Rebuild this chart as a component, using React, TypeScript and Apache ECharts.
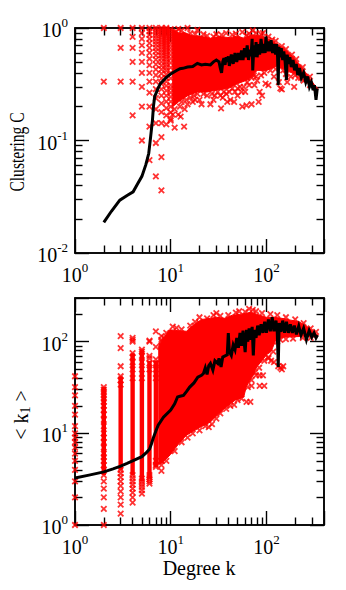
import React, { useEffect, useRef } from "react";
import * as echarts from "echarts";

// ---------- top panel: clustering ----------
const topCol2 = [1, 0.333];
const topCol3 = [1, 0.667, 0.333];
const topCol4 = [1, 0.833, 0.667, 0.5, 0.333, 0.167];
const topCol5 = [1, 0.9, 0.8, 0.7, 0.6, 0.5, 0.4, 0.3, 0.2, 0.1];
const topCol6 = [1, 0.933, 0.867, 0.8, 0.733, 0.667, 0.6, 0.533, 0.467, 0.4, 0.333, 0.267, 0.2, 0.133, 0.067];
const topCol7 = [1, 0.952, 0.905, 0.857, 0.81, 0.762, 0.714, 0.667, 0.619, 0.571, 0.524, 0.476, 0.429, 0.381, 0.333, 0.286, 0.238, 0.19, 0.143, 0.095, 0.048];
const topCol8 = [1, 0.964, 0.929, 0.893, 0.857, 0.821, 0.786, 0.75, 0.714, 0.679, 0.643, 0.607, 0.571, 0.536, 0.5, 0.464, 0.429, 0.393, 0.357, 0.321, 0.286, 0.25, 0.214, 0.179, 0.143, 0.107, 0.071, 0.036];
const topCol9 = [1, 0.972, 0.944, 0.917, 0.889, 0.861, 0.833, 0.806, 0.778, 0.75, 0.722, 0.694, 0.667, 0.639, 0.611, 0.583, 0.556, 0.528, 0.5, 0.472, 0.444, 0.417, 0.389, 0.361, 0.333, 0.306, 0.278, 0.25, 0.222, 0.194, 0.167, 0.139];
const topCol10 = [0.978, 0.933, 0.889, 0.844, 0.8, 0.756, 0.711, 0.667, 0.622, 0.578, 0.533, 0.489, 0.444, 0.4, 0.356, 0.311, 0.289, 0.267, 0.244, 0.222, 0.2, 0.178, 0.156];
const topCloudUpper = [[10.5, 0.97], [12, 0.9], [14, 0.91], [17, 0.85], [20, 0.85], [26, 0.81], [32, 0.84], [42, 0.82], [50, 0.85], [58, 0.81], [70, 0.87], [85, 0.85], [100, 0.82], [130, 0.72], [170, 0.61], [220, 0.48], [270, 0.38], [320, 0.31], [345, 0.29]];
const topCloudLower = [[345, 0.28], [310, 0.28], [270, 0.34], [220, 0.38], [170, 0.41], [130, 0.46], [100, 0.42], [80, 0.42], [66, 0.35], [50, 0.32], [40, 0.29], [30, 0.28], [24, 0.27], [19, 0.27], [15, 0.25], [12, 0.22], [10.5, 0.2]];
const topExtra = [[11, 0.13], [13.8, 0.133], [12.7, 0.163], [33.6, 0.193], [10, 0.15], [10.5, 0.17], [12, 0.17], [39, 0.22], [46, 0.22], [42, 0.23], [56, 0.2], [62, 0.205], [70, 0.21], [83, 0.22], [90, 0.25], [85, 0.27], [105, 0.31], [98, 0.32], [140, 0.29], [145, 0.285], [195, 0.3], [260, 0.35], [135, 0.33], [165, 0.33], [21, 0.21], [26, 0.21], [17, 0.22], [15, 0.21], [14, 0.19], [12, 0.98], [15, 1], [19, 0.96], [75, 0.31], [80, 0.34], [50, 0.25], [55, 0.27], [35, 0.24], [28, 0.23], [18, 0.23], [120, 0.37], [180, 0.37], [230, 0.36], [38, 0.9], [56, 0.92], [72, 0.95], [92, 0.9],
  [11, 0.19], [12.5, 0.2], [13, 0.22], [14.5, 0.23], [16, 0.24], [17.5, 0.25], [19, 0.26], [20, 0.23], [22, 0.26], [24, 0.25], [27, 0.26], [29, 0.25], [31, 0.27], [33, 0.25], [36, 0.27], [38, 0.26], [41, 0.27], [44, 0.29], [47, 0.27], [50, 0.29], [53, 0.3], [58, 0.3], [60, 0.27], [63, 0.33], [66, 0.31], [70, 0.36], [74, 0.38], [78, 0.37], [88, 0.38], [95, 0.4], [110, 0.42], [125, 0.43], [150, 0.42], [160, 0.39], [200, 0.38], [215, 0.36], [245, 0.34], [285, 0.31],
  [11.5, 0.93], [13, 0.95], [16, 0.9], [18, 0.88], [22, 0.88], [24, 0.85], [28, 0.84], [30, 0.88], [34, 0.87], [44, 0.87], [48, 0.89], [62, 0.86], [66, 0.89], [78, 0.9], [88, 0.88], [105, 0.84], [115, 0.79], [125, 0.77], [145, 0.69], [160, 0.65], [185, 0.58], [205, 0.53], [240, 0.45], [285, 0.37]];
const topLine = [[2, 0.0187], [2.4, 0.0235], [2.94, 0.0295], [3.5, 0.0325], [4.05, 0.035], [4.5, 0.041], [5, 0.048], [5.5, 0.061], [5.9, 0.077], [6.15, 0.105], [6.45, 0.152], [6.6, 0.2], [6.8, 0.245], [7.3, 0.285], [7.8, 0.32], [9, 0.364], [10, 0.39], [11.4, 0.417], [12.5, 0.435], [13.4, 0.438], [15, 0.45], [17, 0.455], [19, 0.485], [21, 0.47], [23, 0.475], [26, 0.47], [28, 0.5], [30, 0.52], [32, 0.5], [33, 0.44], [34, 0.4], [35, 0.5], [36, 0.54], [37, 0.47], [38, 0.55], [39, 0.5], [40, 0.56], [41, 0.46], [43, 0.58], [45, 0.48], [47, 0.6], [49, 0.5], [51, 0.6], [53, 0.52], [55, 0.63], [57, 0.52], [59, 0.66], [61, 0.55], [63, 0.7], [65, 0.52], [67, 0.64], [69, 0.56], [71, 0.8], [72, 0.42], [74, 0.7], [76, 0.55], [78, 0.75], [80, 0.55], [83, 0.72], [85, 0.58], [88, 0.8], [91, 0.6], [94, 0.72], [97, 0.6], [99, 0.84], [102, 0.62], [105, 0.76], [108, 0.62], [112, 0.78], [116, 0.6], [120, 0.72], [125, 0.58], [128, 0.72], [131, 0.55], [133, 0.31], [135, 0.68], [139, 0.55], [143, 0.66], [148, 0.52], [152, 0.62], [157, 0.5], [162, 0.345], [165, 0.58], [170, 0.48], [176, 0.55], [182, 0.45], [190, 0.52], [197, 0.42], [205, 0.48], [213, 0.38], [222, 0.44], [232, 0.36], [245, 0.4], [258, 0.33], [270, 0.37], [282, 0.3], [295, 0.33], [308, 0.28], [318, 0.31], [330, 0.23], [340, 0.29]];

// ---------- bottom panel: <k1> ----------
const botCol1 = [1, 2, 3, 4, 5, 6, 7, 8, 9, 10, 12, 16, 20, 26, 32, 42];
const botCol2 = [1, 1.5, 2, 2.5, 3, 3.5, 4, 4.5, 5, 5.5, 6, 7, 8, 9, 10, 12, 14, 16, 18, 20, 22, 24, 26, 28, 30, 32];
const botCol3 = [1.33, 1.67, 2, 2.33, 2.67, 3, 3.33, 3.67, 4, 34, 38, 42, 54, 85, 115];
const botCol4 = [1.75, 2, 2.25, 2.5, 2.75, 3, 3.25, 3.5, 40, 50, 60, 68, 75, 100, 105, 110];
const botCol5 = [2.2, 2.4, 2.6, 2.8, 3, 3.2, 40, 50, 60, 70, 78, 82];
const botCol6 = [2.83, 3, 3.17, 3.33, 3.5, 50, 58, 66, 70, 100, 103];
const botCol7 = [4.3, 4.5, 5, 40, 50, 58, 64, 88, 130];
const botCol8 = [3.9, 4.5, 5, 90, 100, 105, 115];
const botBands = [[2, 3.5, 32], [3, 4, 42], [4, 3.5, 75], [5, 3, 82], [6, 3.2, 62], [7, 4.3, 62]];
const botCloudUpper = [[7.5, 90], [8, 100], [9.7, 135], [12, 132], [14.6, 130], [17, 150], [21, 175], [26, 180], [30, 185], [37, 180], [44, 195], [55, 200], [69, 210], [85, 195], [100, 185], [120, 185], [145, 180], [180, 172], [220, 165], [270, 145], [320, 125], [345, 118]];
const botCloudLower = [[345, 114], [320, 112], [260, 116], [220, 114], [150, 112], [125, 104], [112, 78], [100, 72], [90, 62], [80, 54], [72, 42], [62, 33], [58, 25], [47, 23], [35, 18], [26, 13.3], [19, 11.2], [14.5, 9.5], [12, 7.6], [10, 5.9], [8, 4.7], [7.5, 4.6]];
const botExtra = [[25, 11.7], [85, 43], [92, 43], [78, 43], [62, 22], [68, 22], [70, 33], [85, 33], [95, 33], [140, 52], [150, 54], [145, 50], [133, 54], [112, 62], [120, 60], [105, 66], [66, 50], [78, 60], [60, 36], [20, 160], [30, 205], [52, 215], [66, 228], [78, 215], [108, 115],
  [9, 5], [11, 6.4], [13, 8], [15, 9], [17, 10], [20, 10.8], [23, 12], [27, 12.6], [30, 14.5], [33, 16.5], [38, 18.5], [42, 20], [46, 20.5], [50, 23], [55, 24], [64, 32], [70, 38], [76, 46], [84, 52], [95, 62], [105, 68], [118, 78], [130, 100], [140, 105], [160, 107], [190, 108], [240, 110], [290, 110],
  [8.5, 110], [9, 125], [10.5, 146], [11.5, 142], [13, 136], [16, 150], [18, 165], [20, 185], [24, 180], [28, 195], [33, 192], [40, 195], [48, 208], [60, 212], [72, 222], [90, 205], [110, 200], [130, 195], [160, 185], [200, 175], [245, 160], [290, 140], [330, 128]];
const botLine = [[1, 3.25], [1.4, 3.5], [2, 3.8], [2.5, 4.1], [3, 4.4], [3.5, 4.7], [4, 5], [4.5, 5.3], [5, 5.56], [5.6, 6.2], [6, 6.7], [6.3, 7.7], [6.55, 8.8], [7, 10.6], [7.4, 12.3], [8.4, 15], [10, 18], [11, 21], [11.8, 25], [12.5, 25.4], [13.6, 25.9], [14.6, 28.5], [15.8, 32], [17.5, 35.5], [19.2, 41], [21, 43], [22, 45], [23, 52], [24, 44], [25, 55], [26, 58], [27.6, 49], [29, 62], [31, 58], [32, 66], [33.6, 53], [35, 68], [37, 70], [39, 72], [40, 124], [41, 78], [43, 71], [45, 92], [47, 82], [49, 110], [51, 86], [53, 125], [55, 90], [57, 132], [59, 92], [60, 77], [62, 135], [64, 100], [66, 140], [69, 105], [71, 145], [73, 71], [75, 135], [78, 110], [81, 150], [84, 118], [88, 155], [92, 125], [96, 165], [100, 125], [105, 175], [110, 130], [115, 185], [120, 130], [126, 170], [130, 125], [133, 53], [136, 160], [142, 128], [148, 170], [155, 125], [162, 165], [170, 125], [178, 155], [187, 125], [196, 150], [206, 120], [218, 148], [230, 118], [245, 140], [262, 105], [280, 132], [298, 112], [315, 125], [330, 110], [342, 118]];

const crossSymbol = "path://M1 1L9 9M9 1L1 9";
const RED = "#ff0000";
const X_MIN = 1;
const X_MAX = 400;

const colPts = (k: number, vals: number[]) => vals.map((v) => [k, v]);

const cloudSeries = (idx: number, poly: number[][]) => ({
  type: "custom",
  xAxisIndex: idx,
  yAxisIndex: idx,
  z: 2,
  silent: true,
  clip: false,
  data: [[poly[0][0], poly[0][1]]],
  renderItem: (_p: any, api: any) => ({
    type: "polygon",
    shape: { points: poly.map((p) => api.coord(p)) },
    style: { fill: RED, stroke: RED, lineWidth: 1 },
  }),
});

const bandSeries = (idx: number, bands: number[][]) => ({
  type: "custom",
  xAxisIndex: idx,
  yAxisIndex: idx,
  z: 2,
  silent: true,
  clip: false,
  data: bands,
  renderItem: (_p: any, api: any) => {
    const top = api.coord([api.value(0), api.value(2)]);
    const bot = api.coord([api.value(0), api.value(1)]);
    return {
      type: "rect",
      shape: { x: top[0] - 2.2, y: top[1], width: 4.4, height: bot[1] - top[1] },
      style: { fill: RED },
    };
  },
});

const scatter = (idx: number, data: number[][]) => ({
  type: "scatter",
  xAxisIndex: idx,
  yAxisIndex: idx,
  z: 3,
  silent: true,
  clip: false,
  symbol: crossSymbol,
  symbolSize: 5.5,
  itemStyle: { color: "none", borderColor: RED, borderWidth: 1.8 },
  data,
});

const line = (idx: number, data: number[][]) => ({
  type: "line",
  xAxisIndex: idx,
  yAxisIndex: idx,
  z: 5,
  silent: true,
  showSymbol: false,
  symbol: "none",
  lineStyle: { color: "#000", width: 3, join: "miter" },
  data,
});

const FONT = "'Liberation Serif', serif";
const powerLabel = (v: number) => {
  const e = Math.log10(v);
  if (Math.abs(e - Math.round(e)) > 1e-6) return "";
  return `{b|10}{s|${Math.round(e)}}`;
};
const labelBase = {
  show: true,
  fontFamily: FONT,
  color: "#000",
  formatter: powerLabel,
  rich: {
    b: { fontFamily: FONT, fontSize: 20, color: "#000", lineHeight: 24, verticalAlign: "bottom" },
    s: { fontFamily: FONT, fontSize: 13, color: "#000", lineHeight: 24, verticalAlign: "top", padding: [0, 0, 6, 0] },
  },
};
const axisLine = { show: true, onZero: false, lineStyle: { color: "#000", width: 1.5 } };
const tickStyle = { color: "#000", width: 1.4 };

const App = () => {
  const ref = useRef<HTMLDivElement>(null);
  useEffect(() => {
    document.body.style.margin = "0";
    const chart = echarts.init(ref.current!, undefined, { renderer: "svg" });
    const axis = (gridIndex: number, min: number, max: number, margin: number, position: string, labelled: boolean) => ({
      type: "log",
      logBase: 10,
      gridIndex,
      min,
      max,
      position,
      axisLine,
      axisTick: { show: true, inside: true, length: 14, lineStyle: tickStyle },
      minorTick: { show: true, splitNumber: 9, length: 7.5, lineStyle: tickStyle },
      splitLine: { show: false },
      minorSplitLine: { show: false },
      axisLabel: labelled ? { ...labelBase, margin, hideOverlap: false } : { show: false },
    });
    const topScatter = [
      ...colPts(2, topCol2), ...colPts(3, topCol3), ...colPts(4, topCol4), ...colPts(5, topCol5),
      ...colPts(6, topCol6), ...colPts(7, topCol7), ...colPts(8, topCol8), ...colPts(9, topCol9),
      ...colPts(10, topCol10), ...topExtra,
    ];
    const botScatter = [
      ...colPts(1, botCol1), ...colPts(2, botCol2), ...colPts(3, botCol3), ...colPts(4, botCol4),
      ...colPts(5, botCol5), ...colPts(6, botCol6), ...colPts(7, botCol7), ...colPts(8, botCol8),
      ...botExtra,
    ];
    chart.setOption({
      animation: false,
      backgroundColor: "#fff",
      grid: [
        { left: 75, top: 28, width: 249, height: 225, show: true, borderColor: "#000", borderWidth: 1.5, backgroundColor: "transparent" },
        { left: 75, top: 298, width: 249, height: 227, show: true, borderColor: "#000", borderWidth: 1.5, backgroundColor: "transparent" },
      ],
      xAxis: [
        axis(0, X_MIN, X_MAX, 8, "bottom", true),
        axis(1, X_MIN, X_MAX, 8, "bottom", true),
        axis(0, X_MIN, X_MAX, 8, "top", false),
        axis(1, X_MIN, X_MAX, 8, "top", false),
      ],
      yAxis: [
        axis(0, 0.01, 1, 7, "left", true),
        axis(1, 1, 300, 7, "left", true),
        axis(0, 0.01, 1, 7, "right", false),
        axis(1, 1, 300, 7, "right", false),
      ],
      graphic: [
        {
          type: "text",
          x: 17,
          y: 152,
          rotation: Math.PI / 2,
          scaleX: 0.78,
          style: { text: "Clustering C", font: `20px ${FONT}`, fill: "#000", align: "center", verticalAlign: "middle" },
        },
        {
          type: "text",
          x: 199,
          y: 568,
          style: { text: "Degree k", font: `20px ${FONT}`, fill: "#000", align: "center", verticalAlign: "middle" },
        },
        {
          type: "text",
          x: 21,
          y: 415,
          rotation: Math.PI / 2,
          style: {
            text: "< k{sub|1} >",
            font: `20px ${FONT}`,
            fill: "#000",
            align: "center",
            verticalAlign: "middle",
            rich: { sub: { font: `14px ${FONT}`, fill: "#000", padding: [8, 0, 0, 0] } },
          },
        },
      ],
      series: [
        cloudSeries(0, [...topCloudUpper, ...topCloudLower]),
        scatter(0, topScatter),
        line(0, topLine),
        cloudSeries(1, [...botCloudUpper, ...botCloudLower]),
        bandSeries(1, botBands),
        scatter(1, botScatter),
        line(1, botLine),
        { type: "line", xAxisIndex: 2, yAxisIndex: 2, data: [] },
        { type: "line", xAxisIndex: 3, yAxisIndex: 3, data: [] },
      ],
    });
    return () => chart.dispose();
  }, []);
  return <div ref={ref} style={{ width: 346, height: 590 }} />;
};

export default App;
